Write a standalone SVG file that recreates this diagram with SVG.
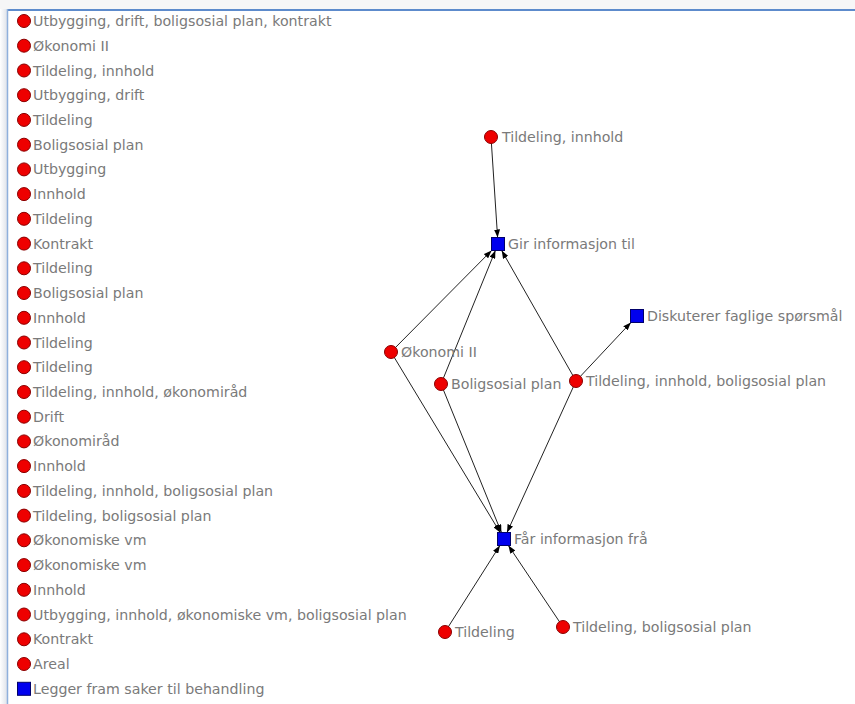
<svg xmlns="http://www.w3.org/2000/svg" width="855" height="704" viewBox="0 0 855 704">
  <defs>
    <linearGradient id="shadowL" x1="0" y1="0" x2="1" y2="0">
      <stop offset="0" stop-color="#ffffff"/>
      <stop offset="1" stop-color="#dfe3ea"/>
    </linearGradient>
    <marker id="arr" viewBox="0 0 8 6" refX="8" refY="3" markerWidth="8" markerHeight="6" markerUnits="userSpaceOnUse" orient="auto">
      <path d="M0,0 L8,3 L0,6 Z" fill="#000"/>
    </marker>
    <style>
      .c { fill: #ee0000; stroke: #8a0000; stroke-width: 1; }
      .s { fill: #0000ee; stroke: #00006a; stroke-width: 1; }
      .t { font-family: "DejaVu Sans", "Liberation Sans", sans-serif; font-size: 14.2px; fill: #7a7a7a; }
      .e { stroke: #222; stroke-width: 1; fill: none; marker-end: url(#arr); }
    </style>
  </defs>
  <rect x="0" y="0" width="855" height="704" fill="#ffffff"/>
  <rect x="0" y="0" width="855" height="9" fill="#f6f6f7"/>
  <rect x="0" y="9" width="7" height="695" fill="url(#shadowL)"/>
  <line x1="7" y1="10" x2="855" y2="10" stroke="#5d8bcc" stroke-width="2"/>
  <line x1="7.5" y1="9" x2="7.5" y2="704" stroke="#8fb0dc" stroke-width="1.5"/>

  <g id="list">
    <g id="l0" transform="translate(24,21)"><circle class="c" r="6.5"/><text class="t" x="9" y="5">Utbygging, drift, boligsosial plan, kontrakt</text></g>
    <g id="l1" transform="translate(24,45.7)"><circle class="c" r="6.5"/><text class="t" x="9" y="5">Økonomi II</text></g>
    <g id="l2" transform="translate(24,70.5)"><circle class="c" r="6.5"/><text class="t" x="9" y="5">Tildeling, innhold</text></g>
    <g id="l3" transform="translate(24,95.2)"><circle class="c" r="6.5"/><text class="t" x="9" y="5">Utbygging, drift</text></g>
    <g id="l4" transform="translate(24,119.9)"><circle class="c" r="6.5"/><text class="t" x="9" y="5">Tildeling</text></g>
    <g id="l5" transform="translate(24,144.7)"><circle class="c" r="6.5"/><text class="t" x="9" y="5">Boligsosial plan</text></g>
    <g id="l6" transform="translate(24,169.4)"><circle class="c" r="6.5"/><text class="t" x="9" y="5">Utbygging</text></g>
    <g id="l7" transform="translate(24,194.1)"><circle class="c" r="6.5"/><text class="t" x="9" y="5">Innhold</text></g>
    <g id="l8" transform="translate(24,218.8)"><circle class="c" r="6.5"/><text class="t" x="9" y="5">Tildeling</text></g>
    <g id="l9" transform="translate(24,243.6)"><circle class="c" r="6.5"/><text class="t" x="9" y="5">Kontrakt</text></g>
    <g id="l10" transform="translate(24,268.3)"><circle class="c" r="6.5"/><text class="t" x="9" y="5">Tildeling</text></g>
    <g id="l11" transform="translate(24,293)"><circle class="c" r="6.5"/><text class="t" x="9" y="5">Boligsosial plan</text></g>
    <g id="l12" transform="translate(24,317.8)"><circle class="c" r="6.5"/><text class="t" x="9" y="5">Innhold</text></g>
    <g id="l13" transform="translate(24,342.5)"><circle class="c" r="6.5"/><text class="t" x="9" y="5">Tildeling</text></g>
    <g id="l14" transform="translate(24,367.2)"><circle class="c" r="6.5"/><text class="t" x="9" y="5">Tildeling</text></g>
    <g id="l15" transform="translate(24,392)"><circle class="c" r="6.5"/><text class="t" x="9" y="5">Tildeling, innhold, økonomiråd</text></g>
    <g id="l16" transform="translate(24,416.7)"><circle class="c" r="6.5"/><text class="t" x="9" y="5">Drift</text></g>
    <g id="l17" transform="translate(24,441.4)"><circle class="c" r="6.5"/><text class="t" x="9" y="5">Økonomiråd</text></g>
    <g id="l18" transform="translate(24,466.1)"><circle class="c" r="6.5"/><text class="t" x="9" y="5">Innhold</text></g>
    <g id="l19" transform="translate(24,490.9)"><circle class="c" r="6.5"/><text class="t" x="9" y="5">Tildeling, innhold, boligsosial plan</text></g>
    <g id="l20" transform="translate(24,515.6)"><circle class="c" r="6.5"/><text class="t" x="9" y="5">Tildeling, boligsosial plan</text></g>
    <g id="l21" transform="translate(24,540.3)"><circle class="c" r="6.5"/><text class="t" x="9" y="5">Økonomiske vm</text></g>
    <g id="l22" transform="translate(24,565.1)"><circle class="c" r="6.5"/><text class="t" x="9" y="5">Økonomiske vm</text></g>
    <g id="l23" transform="translate(24,589.8)"><circle class="c" r="6.5"/><text class="t" x="9" y="5">Innhold</text></g>
    <g id="l24" transform="translate(24,614.5)"><circle class="c" r="6.5"/><text class="t" x="9" y="5">Utbygging, innhold, økonomiske vm, boligsosial plan</text></g>
    <g id="l25" transform="translate(24,639.3)"><circle class="c" r="6.5"/><text class="t" x="9" y="5">Kontrakt</text></g>
    <g id="l26" transform="translate(24,664)"><circle class="c" r="6.5"/><text class="t" x="9" y="5">Areal</text></g>
    <g id="l27" transform="translate(24,688.8)"><rect class="s" x="-6.5" y="-6.5" width="13" height="13"/><text class="t" x="9" y="5">Legger fram saker til behandling</text></g>
  </g>

  <g id="connectors">
    <line class="e" x1="491" y1="137" x2="497.6" y2="237.5"/>
    <line class="e" x1="391" y1="352" x2="491.6" y2="250.5"/>
    <line class="e" x1="441" y1="384" x2="495.4" y2="250.5"/>
    <line class="e" x1="576" y1="381" x2="501.7" y2="250.5"/>
    <line class="e" x1="576" y1="381" x2="630.9" y2="322.5"/>
    <line class="e" x1="391" y1="352" x2="500.1" y2="532.5"/>
    <line class="e" x1="441" y1="384" x2="501.4" y2="532.5"/>
    <line class="e" x1="576" y1="381" x2="507" y2="532.5"/>
    <line class="e" x1="445" y1="632" x2="499.9" y2="545.5"/>
    <line class="e" x1="563" y1="627" x2="508.4" y2="545.5"/>
  </g>

  <g id="n-tildeling-innhold" transform="translate(491,137)"><circle class="c" r="6.5"/><text class="t" x="11" y="5">Tildeling, innhold</text></g>
  <g id="n-gir" transform="translate(498,244)"><rect class="s" x="-6.5" y="-6.5" width="13" height="13"/><text class="t" x="10" y="5">Gir informasjon til</text></g>
  <g id="n-diskuterer" transform="translate(637,316)"><rect class="s" x="-6.5" y="-6.5" width="13" height="13"/><text class="t" x="10" y="5">Diskuterer faglige spørsmål</text></g>
  <g id="n-okonomi" transform="translate(391,352)"><circle class="c" r="6.5"/><text class="t" x="10" y="5">Økonomi II</text></g>
  <g id="n-boligsosial" transform="translate(441,384)"><circle class="c" r="6.5"/><text class="t" x="10" y="5">Boligsosial plan</text></g>
  <g id="n-tibp" transform="translate(576,381)"><circle class="c" r="6.5"/><text class="t" x="10" y="5">Tildeling, innhold, boligsosial plan</text></g>
  <g id="n-far" transform="translate(504,539)"><rect class="s" x="-6.5" y="-6.5" width="13" height="13"/><text class="t" x="10" y="5">Får informasjon frå</text></g>
  <g id="n-tildeling" transform="translate(445,632)"><circle class="c" r="6.5"/><text class="t" x="10" y="5">Tildeling</text></g>
  <g id="n-tbp" transform="translate(563,627)"><circle class="c" r="6.5"/><text class="t" x="10" y="5">Tildeling, boligsosial plan</text></g>
</svg>
